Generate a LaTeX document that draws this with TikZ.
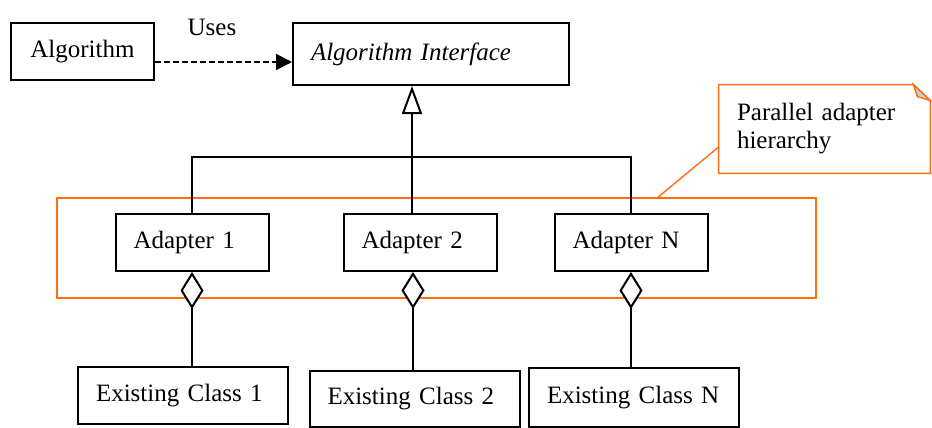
\documentclass[tikz,border=0pt]{standalone}
\usepackage{fontspec}
\setmainfont{Liberation Serif}
\usetikzlibrary{arrows.meta}
\definecolor{grouporange}{RGB}{255,110,20}

\begin{document}
\begin{tikzpicture}[x=0.5pt, y=-0.5pt, font=\fontsize{12.5}{14}\selectfont,
    box/.style={draw, line width=1pt, minimum height=28.5pt},
    lbox/.style={box, align=left, inner xsep=9pt, text width=#1},
    conn/.style={line width=1pt},
    uses/.style={conn, dash pattern=on 3pt off 1.5pt, -{Triangle[length=8pt, width=8pt]}},
    inherit/.style={conn, -{Triangle[fill=white, length=14pt, width=10pt]}},
    agg/.style={conn, {Diamond[fill=white, length=18.5pt, width=11.5pt]}-},
    group/.style={draw=grouporange, line width=0.8pt},
    lead/.style={draw=grouporange, line width=0.7pt}]
\useasboundingbox (0,0) rectangle (932,428);

    % hierarchy frame begin
    \node[group, minimum width=379.5pt, minimum height=50pt] (grp) at (436.5,248) {};
    \node[align=left, inner xsep=9pt, text width=87.5pt, minimum height=44pt] (note) at (824.5,129) {Parallel adapter\\hierarchy};
    \draw[lead] (note.north west) -- ([xshift=-8.5pt]note.north east) -- ([yshift=-8pt]note.north east)
        -- (note.south east) -- (note.south west) -- cycle;
    \filldraw[lead, fill=gray!40] ([xshift=-8.5pt]note.north east) -- ([yshift=-8pt]note.north east)
        -- ([xshift=-6.5pt, yshift=-6pt]note.north east) -- cycle;
    \draw[lead] ([xshift=110.75pt]grp.north) -- ([yshift=-9pt]note.west);
    % hierarchy frame end

\node[box, minimum width=71.5pt] (alg) at (82.5,51.5) {Algorithm};
\node[lbox=120pt, minimum height=31pt, font=\fontsize{12.5}{14}\selectfont\itshape] (iface) at (431,54) {Algorithm Interface};

\node[lbox=58.5pt] (ad1) at (192,242.5) {Adapter 1};
\node[lbox=58.5pt] (ad2) at (420,242.5) {Adapter 2};
\node[lbox=58.5pt] (adN) at (631,242.5) {Adapter N};

\node[lbox=87pt] (ex1) at (183,395.5) {Existing Class 1};
\node[lbox=87pt, minimum height=28pt] (ex2) at (414.5,399) {Existing Class 2};
\node[lbox=87pt, minimum height=29.5pt] (exN) at (634,397.5) {Existing Class N};

\coordinate (usesA) at ([yshift=-5.25pt]alg.east);
\draw[uses] (usesA) -- (usesA -| iface.west);
\node (usesL) at (212,27) {Uses};

\coordinate (hub) at (412,157);
\draw[conn] (ad1.north) |- (hub) -| (adN.north);
\draw[conn] ([xshift=-4pt]ad2.north) -- (hub);
\draw[inherit] (hub) -- ([xshift=-9.5pt]iface.south);

\draw[agg] (ad1.south) -- (ad1.south |- ex1.north);
\draw[agg] ([xshift=-3.5pt]ad2.south) coordinate (ad2s) -- (ad2s |- ex2.north);
\draw[agg] (adN.south) -- (adN.south |- exN.north);

\end{tikzpicture}
\end{document}
